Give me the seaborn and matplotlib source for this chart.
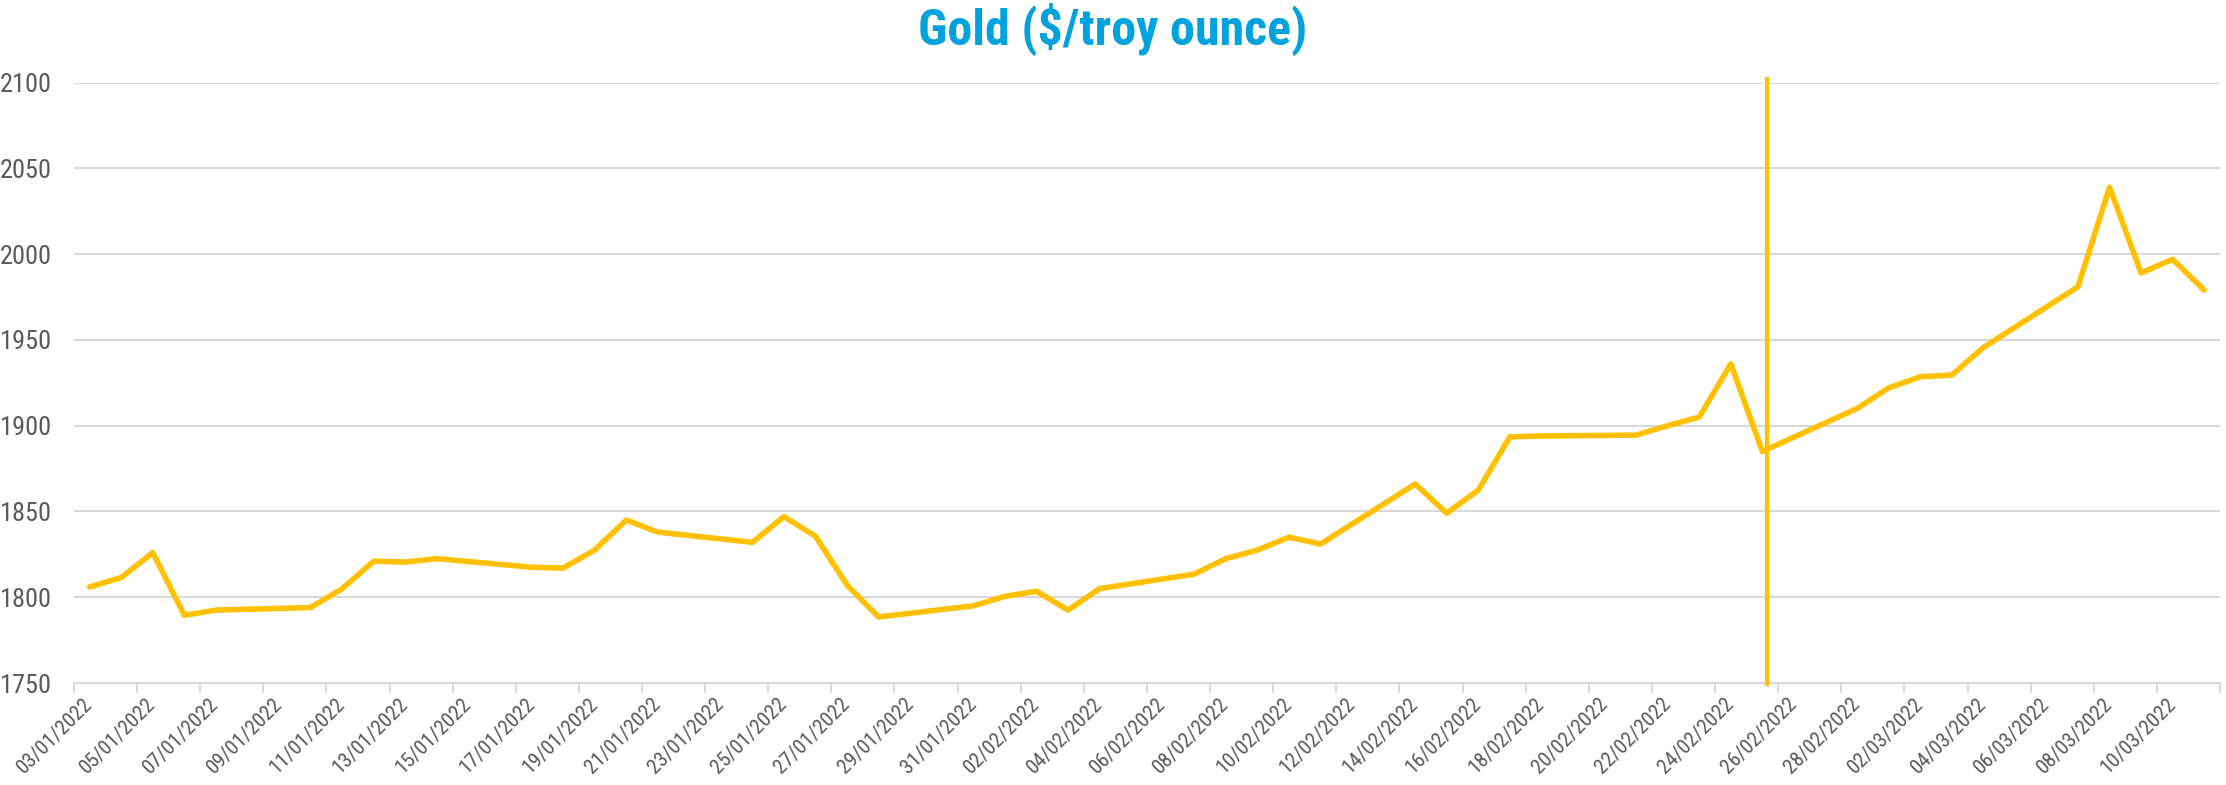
import numpy as np
import pandas as pd
import matplotlib
matplotlib.use("Agg")
import matplotlib.pyplot as plt
import matplotlib.dates as mdates
from matplotlib import font_manager
import seaborn as sns

# ---- data ----
dates = ["2022-01-03", "2022-01-04", "2022-01-05", "2022-01-06", "2022-01-07",
         "2022-01-10", "2022-01-11", "2022-01-12", "2022-01-13", "2022-01-14",
         "2022-01-17", "2022-01-18", "2022-01-19", "2022-01-20", "2022-01-21",
         "2022-01-24", "2022-01-25", "2022-01-26", "2022-01-27", "2022-01-28",
         "2022-01-31", "2022-02-01", "2022-02-02", "2022-02-03", "2022-02-04",
         "2022-02-07", "2022-02-08", "2022-02-09", "2022-02-10", "2022-02-11",
         "2022-02-14", "2022-02-15", "2022-02-16", "2022-02-17", "2022-02-18",
         "2022-02-21", "2022-02-22", "2022-02-23", "2022-02-24", "2022-02-25",
         "2022-02-28", "2022-03-01", "2022-03-02", "2022-03-03", "2022-03-04",
         "2022-03-07", "2022-03-08", "2022-03-09", "2022-03-10", "2022-03-11"]
gold_price = [1806, 1811.5, 1826, 1789.5, 1792.5,
              1794, 1805, 1821, 1820.5, 1822.5,
              1817.5, 1817, 1827.5, 1845, 1838,
              1832, 1847, 1835.5, 1807, 1788.5,
              1795, 1800.5, 1803.5, 1792.5, 1805,
              1813.5, 1822.5, 1827.5, 1835, 1831,
              1866, 1849, 1862.5, 1893.5, 1894,
              1894.5, 1900, 1905, 1936, 1885,
              1910, 1922, 1928.5, 1929.5, 1945.5,
              1981, 2039, 1989, 1997, 1979]
event_dates = ["2022-02-25 15:30"]
title = "Gold ($/troy ounce)"
y_ticks = [1750, 1800, 1850, 1900, 1950, 2000, 2050, 2100]
axis_start = "2022-01-03"
axis_end = "2022-03-12"

# ---- fonts ----
available = {f.name for f in font_manager.fontManager.ttflist}
def pick(*names):
    for n in names:
        if n in available:
            return n
    return "DejaVu Sans"
narrow = pick("Liberation Sans Narrow", "Roboto Condensed", "DejaVu Sans")

sns.set_theme(style="white")
plt.rcParams["font.family"] = [narrow, "DejaVu Sans"]

GOLD = "#FFC000"
GRID = "#D9D9D9"
TXT = "#595959"

df = pd.DataFrame({"date": pd.to_datetime(dates), "price": gold_price})
df["slot_center"] = df["date"] + pd.Timedelta(hours=12)

fig = plt.figure(figsize=(22.26, 7.85), dpi=100)
ax = fig.add_axes([0.0332, 0.1299, 0.9641, 0.7649])

sns.lineplot(data=df, x="slot_center", y="price", ax=ax, color=GOLD,
             linewidth=4.0, zorder=3)

for ev in event_dates:
    ax.vlines(pd.Timestamp(ev), 1748.5, 2103, color=GOLD, linewidth=3.0,
              clip_on=False, zorder=4)

ax.set_xlim(pd.Timestamp(axis_start), pd.Timestamp(axis_end))
ax.set_ylim(y_ticks[0], y_ticks[-1])
ax.set_yticks(y_ticks)
ax.set_yticklabels([str(v) for v in y_ticks])

# labels at day centers, tick marks at day boundaries
label_days = pd.date_range(axis_start, axis_end, freq="2D")
label_days = label_days[label_days < pd.Timestamp(axis_end)]
ax.set_xticks(label_days + pd.Timedelta(hours=12))
ax.set_xticklabels([d.strftime("%d/%m/%Y") for d in label_days])
ax.set_xticks(pd.date_range(axis_start, axis_end, freq="2D"), minor=True)

ax.tick_params(axis="x", which="major", length=0, pad=13, labelsize=15,
               labelcolor=TXT)
ax.tick_params(axis="x", which="minor", length=7, width=1.5, color=GRID,
               direction="out", bottom=True)
ax.tick_params(axis="y", length=0, pad=16, labelsize=19, labelcolor=TXT)
for lab in ax.get_xticklabels():
    lab.set_rotation(45)
    lab.set_ha("right")
    lab.set_va("center")
    lab.set_rotation_mode("anchor")

ax.grid(axis="y", color=GRID, linewidth=1.5)
ax.grid(axis="x", visible=False)
for s in ["left", "right", "top"]:
    ax.spines[s].set_visible(False)
ax.spines["bottom"].set_color(GRID)
ax.spines["bottom"].set_linewidth(1.5)
ax.set_xlabel("")
ax.set_ylabel("")

fig.text(0.5, 0.962, title, ha="center", va="center", fontsize=36,
         fontweight="bold", color="#00A2DE")

fig.savefig("out.png", dpi=100, facecolor="white")
